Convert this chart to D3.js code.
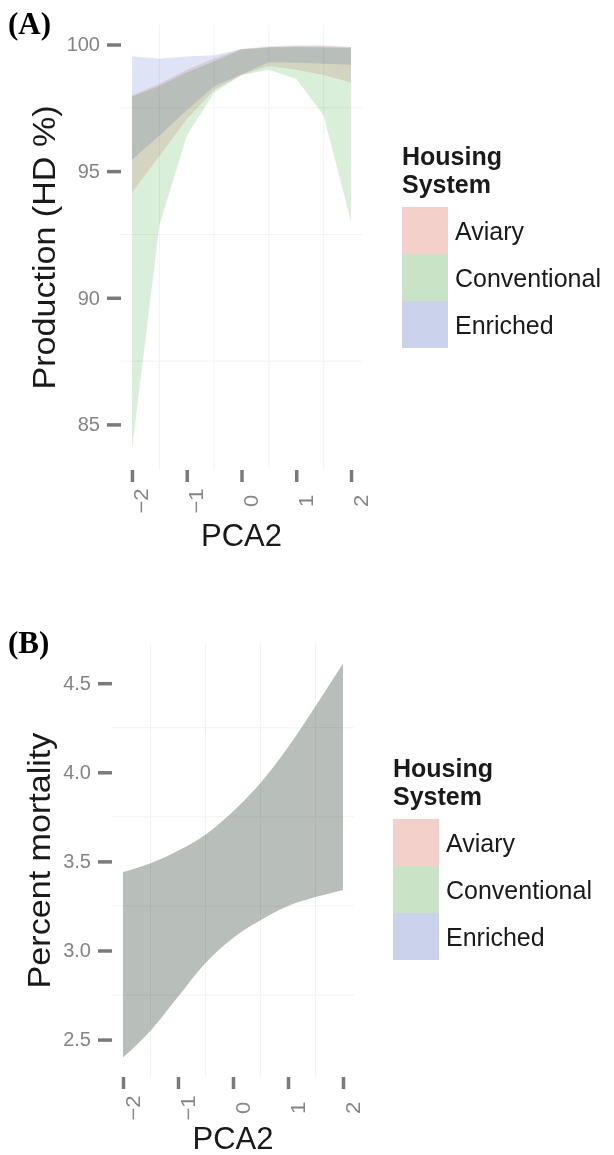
<!DOCTYPE html>
<html>
<head>
<meta charset="utf-8">
<script src="https://cdn.jsdelivr.net/npm/d3@7"></script>
<style>
  html, body { margin: 0; padding: 0; background: #fff; }
  svg { display: block; }
</style>
</head>
<body>
<div id="chart"></div>
<script>
// PCA2 grid the predictions were made on
const pca2 = [-2, -1.5, -1, -0.5, 0, 0.5, 1, 1.5, 2];
const xTicks = [-2, -1, 0, 1, 2];

const housingSystems = ['Aviary', 'Conventional', 'Enriched'];
const legendColors = ['#f3d0c9', '#c8e3c6', '#cbd3ec'];
// bands are multiplied together, so they are a bit paler than the keys
const ribbonColors = ['#fae4e1', '#d9efda', '#dee4f6'];

// (A) production, HD % : confidence band per housing system
const prodAviaryLo = [94.15, 95.6, 97.05, 98.2, 98.8, 99.15, 99.0, 98.8, 98.5];
const prodAviaryHi = [98.0, 98.45, 99.0, 99.45, 99.82, 99.93, 99.97, 99.97, 99.9];
const prodConvLo = [84.0, 92.85, 96.4, 98.1, 98.8, 99.0, 98.65, 97.2, 93.0];
const prodConvHi = [97.95, 98.36, 98.89, 99.34, 99.8, 99.88, 99.9, 99.88, 99.85];
const prodEnrLo = [95.45, 96.4, 97.4, 98.35, 98.82, 99.3, 99.28, 99.24, 99.2];
const prodEnrHi = [99.54, 99.44, 99.53, 99.58, 99.82, 99.9, 99.93, 99.93, 99.9];
const prodTicks = [85, 90, 95, 100];

// (B) percent mortality : the three bands coincide
const mortLo = [2.40, 2.55, 2.74, 2.93, 3.07, 3.17, 3.25, 3.30, 3.34];
const mortHi = [3.44, 3.49, 3.56, 3.65, 3.78, 3.94, 4.14, 4.37, 4.61];
const mortTicks = [2.5, 3.0, 3.5, 4.0, 4.5];

const W = 614, H = 1155;
const FONT = 'Liberation Sans, Arial, sans-serif';
const svg = d3.select('#chart').append('svg')
    .attr('width', W)
    .attr('height', H);
svg.append('rect').attr('width', W).attr('height', H).attr('fill', '#fff');

function toRows(lo, hi) {
    return pca2.map((p, i) => ({ pca: p, lo: lo[i], hi: hi[i] }));
}

function drawPanel(cfg) {
    const g = svg.append('g');
    const x = d3.scaleLinear().domain([-2.2, 2.2]).range([cfg.left, cfg.right]);
    const y = d3.scaleLinear().domain(cfg.yDomain).range([cfg.bottom, cfg.top]);

    // minor grid only
    const gx = d3.range(-1.5, 2, 1);
    g.selectAll('.vgrid').data(gx).enter().append('line')
        .attr('x1', d => x(d)).attr('x2', d => x(d))
        .attr('y1', cfg.top).attr('y2', cfg.bottom)
        .attr('stroke', '#f2f2f2').attr('stroke-width', 1);
    g.selectAll('.hgrid').data(cfg.yMinor).enter().append('line')
        .attr('x1', cfg.left).attr('x2', cfg.right)
        .attr('y1', d => y(d)).attr('y2', d => y(d))
        .attr('stroke', '#f2f2f2').attr('stroke-width', 1);

    const area = d3.area()
        .x(d => x(d.pca))
        .y0(d => y(d.lo))
        .y1(d => y(d.hi))
        .curve(cfg.curve);

    g.selectAll('.band').data(cfg.bands).enter().append('path')
        .attr('d', d => area(d.rows))
        .attr('fill', (d, i) => ribbonColors[i])
        .style('mix-blend-mode', 'multiply');

    // y axis
    const ya = g.append('g')
        .attr('transform', `translate(${cfg.left},0)`)
        .call(d3.axisLeft(y).tickValues(cfg.yTicks).tickFormat(cfg.yFormat)
            .tickSize(14).tickPadding(7));
    ya.select('.domain').remove();
    ya.selectAll('line').attr('stroke', '#7a7a7a').attr('stroke-width', 3.5);
    ya.selectAll('text')
        .attr('fill', '#858585')
        .style('font-family', FONT)
        .style('font-size', '20px');

    // x axis, labels turned 90 degrees (picture is a little stretched vertically)
    const xa = g.append('g')
        .attr('transform', `translate(0,${cfg.bottom})`)
        .call(d3.axisBottom(x).tickValues(xTicks).tickFormat(d3.format('d')).tickSize(12));
    xa.select('.domain').remove();
    xa.selectAll('line').attr('stroke', '#7a7a7a').attr('stroke-width', 3.5);
    xa.selectAll('text')
        .attr('transform', 'translate(16,31) rotate(-90) scale(1.1,1)')
        .attr('x', 0)
        .attr('y', 0)
        .attr('dy', 0)
        .attr('text-anchor', 'middle')
        .attr('fill', '#858585')
        .style('font-family', FONT)
        .style('font-size', '20px');

    // axis titles
    g.append('text')
        .attr('x', x(0)).attr('y', cfg.bottom + cfg.xTitleGap)
        .attr('text-anchor', 'middle')
        .attr('fill', '#1a1a1a')
        .style('font-family', FONT)
        .style('font-size', '31px')
        .text('PCA2');
    g.append('text')
        .attr('transform', `translate(${cfg.yTitleX},${(cfg.top + cfg.bottom) / 2}) rotate(-90) scale(1.1,1)`)
        .attr('text-anchor', 'middle')
        .attr('fill', '#1a1a1a')
        .style('font-family', FONT)
        .style('font-size', '31px')
        .text(cfg.yTitle);

    // panel tag
    g.append('text')
        .attr('x', 8).attr('y', cfg.tagY)
        .attr('fill', '#000')
        .style('font-family', 'Liberation Serif, Times New Roman, serif')
        .style('font-weight', 'bold')
        .style('font-size', '31px')
        .text(cfg.tag);

    // legend
    const lg = g.append('g').attr('transform', `translate(${cfg.legendX},${cfg.legendY})`);
    lg.selectAll('.ltitle').data(['Housing', 'System']).enter().append('text')
        .attr('x', 0).attr('y', (d, i) => i * 28)
        .attr('fill', '#1a1a1a')
        .style('font-family', FONT)
        .style('font-weight', 'bold')
        .style('font-size', '25px')
        .text(d => d);
    const key = 47;
    const items = lg.selectAll('.item').data(housingSystems).enter().append('g')
        .attr('transform', (d, i) => `translate(0,${42 + i * key})`);
    items.append('rect')
        .attr('width', 46).attr('height', key)
        .attr('fill', (d, i) => legendColors[i]);
    items.append('text')
        .attr('x', 53).attr('y', key / 2 + 9)
        .attr('fill', '#1a1a1a')
        .style('font-family', FONT)
        .style('font-size', '25px')
        .text(d => d);
}

drawPanel({
    left: 121, right: 362, top: 25, bottom: 470,
    yDomain: [83.2, 100.77],
    yTicks: prodTicks,
    yMinor: [87.5, 92.5, 97.5],
    yFormat: d3.format('d'),
    yTitle: 'Production (HD %)',
    yTitleX: 55,
    xTitleGap: 76,
    tag: '(A)', tagY: 34,
    legendX: 402, legendY: 165,
    curve: d3.curveLinear,
    bands: [
        { name: 'Aviary', rows: toRows(prodAviaryLo, prodAviaryHi) },
        { name: 'Conventional', rows: toRows(prodConvLo, prodConvHi) },
        { name: 'Enriched', rows: toRows(prodEnrLo, prodEnrHi) }
    ]
});

drawPanel({
    left: 112, right: 354, top: 644, bottom: 1077,
    yDomain: [2.29, 4.72],
    yTicks: mortTicks,
    yMinor: [2.75, 3.25, 3.75, 4.25],
    yFormat: d3.format('.1f'),
    yTitle: 'Percent mortality',
    yTitleX: 50,
    xTitleGap: 72,
    tag: '(B)', tagY: 653,
    legendX: 393, legendY: 777,
    curve: d3.curveMonotoneX,
    bands: housingSystems.map(h => ({ name: h, rows: toRows(mortLo, mortHi) }))
});
</script>
</body>
</html>
